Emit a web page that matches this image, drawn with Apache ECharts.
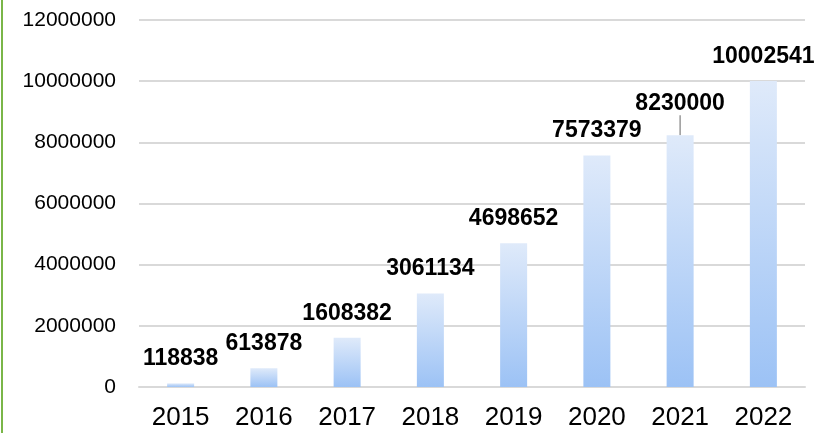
<!DOCTYPE html>
<html>
<head>
<meta charset="utf-8">
<script src="https://cdn.jsdelivr.net/npm/echarts@6/dist/echarts.min.js"></script>
<style>
  html, body { margin: 0; padding: 0; background: #fff; }
  #chart { width: 817px; height: 433px; }
</style>
</head>
<body>
<div id="chart"></div>
<script>
const years = ['2015', '2016', '2017', '2018', '2019', '2020', '2021', '2022'];
const totals = [118838, 613878, 1608382, 3061134, 4698652, 7573379, 8230000, 10002541];

const chart = echarts.init(document.getElementById('chart'));

const barColor = new echarts.graphic.LinearGradient(0, 0, 0, 1, [
  { offset: 0, color: '#dfeafa' },
  { offset: 1, color: '#9cc2f5' }
]);

// 2021 label sits a little higher, tied to the bar by a short leader line
const barData = totals.map((v, i) => i === 6
  ? { value: v, labelLine: { show: true, lineStyle: { color: '#999', width: 1.5 } } }
  : v);

chart.setOption({
  animation: false,
  graphic: [
    // green frame edge on the left
    { type: 'rect', left: 1, top: 0, shape: { width: 2, height: 433 }, style: { fill: '#7ab648' } }
  ],
  grid: { left: 139, right: 12, top: 20, bottom: 46 },
  xAxis: {
    type: 'category',
    data: years,
    axisLine: { show: true, lineStyle: { color: '#d9d9d9', width: 2 } },
    axisTick: { show: false },
    axisLabel: {
      color: '#000',
      fontSize: 26,
      fontFamily: 'Liberation Sans',
      margin: 18
    }
  },
  yAxis: {
    type: 'value',
    min: 0,
    max: 12000000,
    interval: 2000000,
    axisLine: { show: false },
    axisTick: { show: false },
    axisLabel: {
      color: '#000',
      fontSize: 21,
      fontFamily: 'Liberation Sans',
      margin: 23,
      formatter: (v) => String(v)
    },
    splitLine: { lineStyle: { color: '#d9d9d9', width: 2 } }
  },
  series: [
    {
      type: 'bar',
      data: barData,
      barWidth: 27,
      itemStyle: { color: barColor },
      label: {
        show: true,
        position: 'top',
        distance: 13,
        color: '#000',
        fontSize: 23,
        fontWeight: 'bold',
        fontFamily: 'Liberation Sans'
      },
      labelLine: { show: false },
      labelLayout: (params) => {
        if (params.dataIndex === 6) return { dy: -7 };
        return {};
      }
    }
  ]
});
</script>
</body>
</html>
